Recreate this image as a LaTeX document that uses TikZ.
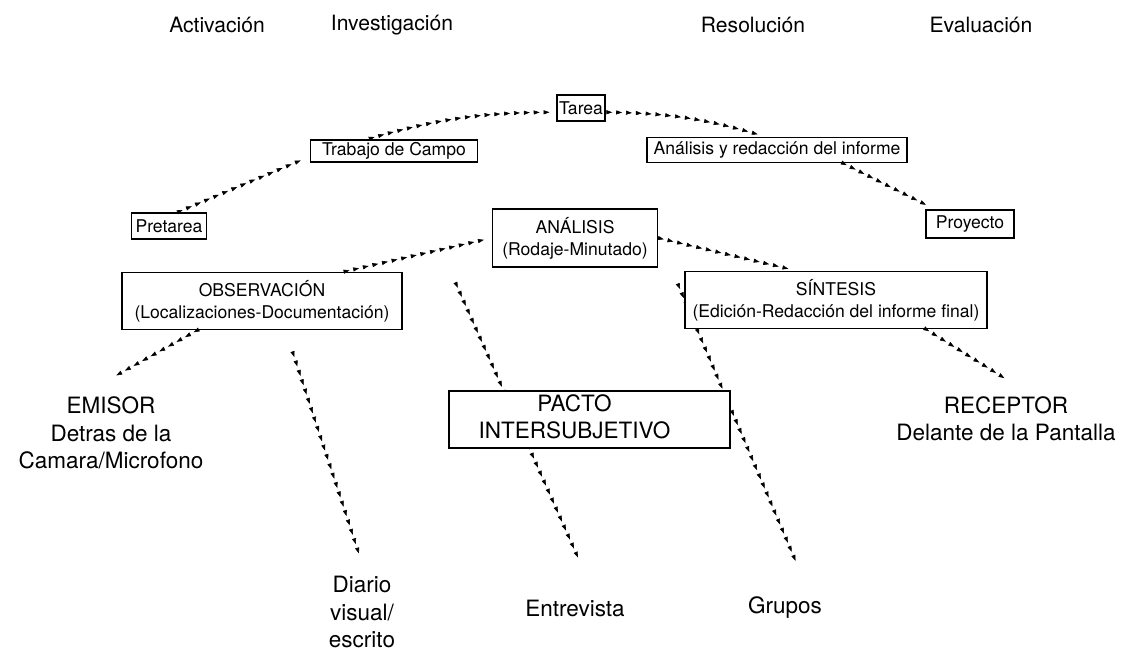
\documentclass[tikz,border=0pt]{standalone}
\usepackage{fontspec}
\setmainfont{TeX Gyre Heros}
\usetikzlibrary{positioning}
\usetikzlibrary{decorations.markings}
\usetikzlibrary{arrows.meta}

\begin{document}
\begin{tikzpicture}[x=0.025cm, y=-0.025cm,
  caja/.style={draw, line width=1.1pt, fill=white, inner sep=0pt, align=center, font=\fontsize{12.5}{15.5}\selectfont},
  titulo/.style={font=\fontsize{15}{18}\selectfont},
  rotulo/.style={align=center, font=\fontsize{16}{19.5}\selectfont},
  flecha/.style={decoration={markings, mark=between positions 0.04 and 0.99 step 7pt with {\arrow{Triangle[length=4.2pt,width=2.9pt]}}}, postaction={decorate}}]

\useasboundingbox (0,0) rectangle (1124,654);

% fases
\node[titulo] (activacion) at (217,25) {Activación};
\node[titulo] (investigacion) at (392,25) {Investigación};
\node[titulo] (resolucion) at (753,25) {Resolución};
\node[titulo] (evaluacion) at (981,25) {Evaluación};

% rotulos sueltos
\node[rotulo] (emisor) at (111,433) {EMISOR\\Detras de la\\Camara/Microfono};
\node[rotulo] (receptor) at (1006,419) {RECEPTOR\\Delante de la Pantalla};
\node[rotulo] (diario) at (362,612) {Diario\\visual/\\escrito};
\node[rotulo] (entrevista) at (575,608) {Entrevista};
\node[rotulo] (grupos) at (785,608) {Grupos};

% cajas de arriba
\node[caja, minimum width=1.2cm, minimum height=0.65cm] (tarea) at (581,108) {Tarea};
\node[caja, minimum width=4.175cm, minimum height=0.55cm] (trabajo) at (394,151) {Trabajo de Campo};
\node[caja, minimum width=6.5cm, minimum height=0.625cm] (informe) at (777,150) {Análisis y redacción del informe};
\node[caja, minimum width=1.875cm, minimum height=0.65cm] (pretarea) at (169,226) {Pretarea};
\node[caja, minimum width=2.2cm, minimum height=0.7cm] (proyecto) at (970,224) {Proyecto};
\node[caja, minimum width=4.125cm, minimum height=1.45cm] (analisis) at (575,238) {ANÁLISIS\\(Rodaje-Minutado)};

% lineas que pasan por detras
\path[flecha] ([xshift=-87pt,yshift=-6pt]analisis.south) -- ([xshift=5pt,yshift=20pt]entrevista.north);
\path[flecha] ([xshift=12pt,yshift=-7pt]analisis.south east) -- ([xshift=8.5pt,yshift=20pt]grupos.north);

\node[caja, minimum width=7cm, minimum height=1.425cm] (observacion) at (262,301) {OBSERVACIÓN\\(Localizaciones-Documentación)};
\node[caja, minimum width=7.55cm, minimum height=1.425cm] (sintesis) at (836,300) {SÍNTESIS\\(Edición-Redacción del informe final)};
\node[caja, minimum width=7.025cm, minimum height=1.425cm, font=\fontsize{16}{19.5}\selectfont] (pacto) at (589.5,419.5)
  {\begin{tabular}{@{}c@{}}PACTO\\INTERSUBJETIVO\end{tabular}\hspace*{0.75cm}};

% conexiones
\path[flecha] ([xshift=6pt]pretarea.north) -- ([yshift=-4pt]trabajo.west);
\path[flecha] ([xshift=-19pt]trabajo.north) to[bend left=8] ([yshift=-3pt]tarea.west);
\path[flecha] ([yshift=-3pt]tarea.east) to[bend left=8] ([xshift=-8pt]informe.north);
\path[flecha] ([xshift=47pt]informe.south) -- ([xshift=-25pt]proyecto.north);
\path[flecha] ([xshift=58pt]observacion.north) -- (analisis.west);
\path[flecha] (analisis.east) -- ([xshift=-28pt]sintesis.north);
\path[flecha] ([xshift=-46pt]observacion.south) -- ([xshift=-3pt,yshift=8pt]emisor.north);
\path[flecha] ([xshift=64pt]sintesis.south) -- ([yshift=9pt]receptor.north);
\path[flecha] ([xshift=21pt,yshift=-13pt]observacion.south) -- ([yshift=6pt]diario.north);

\end{tikzpicture}
\end{document}
